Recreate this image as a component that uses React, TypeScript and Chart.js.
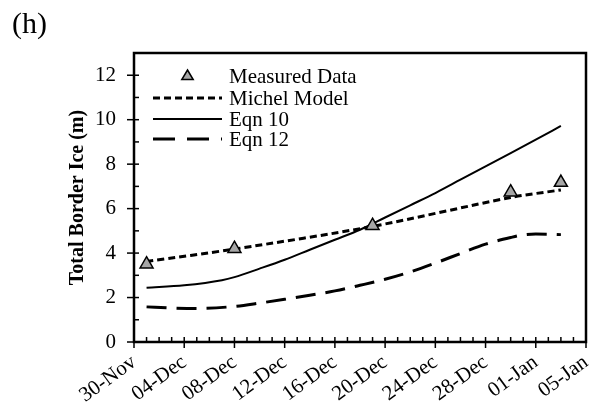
import React, { useEffect, useRef } from 'react';
import { Chart, registerables } from 'chart.js';

Chart.register(...registerables);

// Day offsets are counted from 30-Nov
const xTickLabels = ['30-Nov', '04-Dec', '08-Dec', '12-Dec', '16-Dec', '20-Dec', '24-Dec', '28-Dec', '01-Jan', '05-Jan'];
const xTickStep = 4;
const yTickValues = [0, 2, 4, 6, 8, 10, 12];
const measuredDays = [1, 8, 19, 30, 34];
const measuredValues = [3.5, 4.2, 5.23, 6.74, 7.17];
const michelDays = [1, 8, 19, 30, 34];
const michelValues = [3.62, 4.18, 5.2, 6.5, 6.84];
const eqn10Days = [1, 4, 7, 8, 10, 12, 14, 16, 18, 20, 22, 24, 26, 28, 30, 32, 34];
const eqn10Values = [2.44, 2.55, 2.78, 2.92, 3.3, 3.7, 4.15, 4.6, 5.05, 5.6, 6.15, 6.7, 7.3, 7.9, 8.5, 9.1, 9.72];
const eqn12Days = [1, 3, 5, 8, 10, 12, 14, 16, 18, 20, 22, 24, 26, 28, 30, 31, 32, 33, 34];
const eqn12Values = [1.58, 1.53, 1.51, 1.6, 1.75, 1.92, 2.1, 2.3, 2.55, 2.82, 3.15, 3.55, 3.98, 4.4, 4.7, 4.82, 4.86, 4.85, 4.83];
const legendLabels = ['Measured Data', 'Michel Model', 'Eqn 10', 'Eqn 12'];
const yAxisTitle = 'Total Border Ice (m)';
const panelLabel = '(h)';

const FONT = '"Liberation Serif", "Times New Roman", serif';
const TRI_FILL = '#a6a6a6';

const toPoints = (xs: number[], ys: number[]) => xs.map((x, i) => ({ x, y: ys[i] }));

function drawTriangle(ctx: CanvasRenderingContext2D, cx: number, cy: number, r: number) {
  ctx.beginPath();
  ctx.moveTo(cx, cy - r);
  ctx.lineTo(cx + r * 0.95, cy + r * 0.6);
  ctx.lineTo(cx - r * 0.95, cy + r * 0.6);
  ctx.closePath();
  ctx.fillStyle = TRI_FILL;
  ctx.fill();
  ctx.lineWidth = 1.5;
  ctx.strokeStyle = '#000';
  ctx.stroke();
}

const decorPlugin = {
  id: 'decor',
  afterDatasetsDraw(chart: any) {
    const { ctx, chartArea: a, scales } = chart;
    const xs = scales.x;
    const ys = scales.y;
    ctx.save();
    ctx.strokeStyle = '#000';
    ctx.setLineDash([]);
    // frame
    ctx.lineWidth = 2.5;
    ctx.strokeRect(a.left, a.top, a.right - a.left, a.bottom - a.top);
    // x ticks
    ctx.lineWidth = 1.5;
    for (let d = xs.min; d <= xs.max; d++) {
      const px = xs.getPixelForValue(d);
      const major = d % xTickStep === 0;
      ctx.beginPath();
      ctx.moveTo(px, a.bottom + (major ? 6 : 0));
      ctx.lineTo(px, a.bottom - 5);
      ctx.stroke();
    }
    // y ticks
    for (let v = ys.min; v <= ys.max; v++) {
      const py = ys.getPixelForValue(v);
      const major = yTickValues.includes(v);
      ctx.beginPath();
      ctx.moveTo(a.left - (major ? 7 : 0), py);
      ctx.lineTo(a.left + 5, py);
      ctx.stroke();
    }
    // legend
    const rows = [23, 45, 66, 86];
    const lx0 = a.left + 19;
    const lx1 = a.left + 88;
    const tx = a.left + 95;
    ctx.font = '21px ' + FONT;
    ctx.textBaseline = 'middle';
    ctx.textAlign = 'left';
    drawTriangle(ctx, (lx0 + lx1) / 2, a.top + rows[0], 6);
    const dashes = [[7, 4], [], [22, 12]];
    const widths = [3, 2, 3];
    for (let i = 0; i < 3; i++) {
      const y = a.top + rows[i + 1];
      ctx.beginPath();
      ctx.setLineDash(dashes[i]);
      ctx.lineWidth = widths[i];
      ctx.strokeStyle = '#000';
      ctx.moveTo(lx0, y);
      ctx.lineTo(lx1, y);
      ctx.stroke();
    }
    ctx.setLineDash([]);
    ctx.fillStyle = '#000';
    legendLabels.forEach((t, i) => ctx.fillText(t, tx, a.top + rows[i] + 1));
    // panel label
    ctx.font = '30px ' + FONT;
    ctx.textBaseline = 'alphabetic';
    ctx.fillText(panelLabel, 12, 33);
    ctx.restore();
  },
};

export default function App() {
  const ref = useRef<HTMLCanvasElement | null>(null);
  useEffect(() => {
    document.body.style.margin = '0';
    const canvas = ref.current;
    if (!canvas) return;
    const chart = new Chart(canvas, {
      type: 'scatter',
      data: {
        datasets: [
          {
            label: legendLabels[0],
            data: toPoints(measuredDays, measuredValues),
            showLine: false,
            pointStyle: 'triangle',
            pointRadius: 7.5,
            backgroundColor: TRI_FILL,
            borderColor: '#000',
            borderWidth: 1.5,
            order: 0,
          },
          {
            label: legendLabels[1],
            data: toPoints(michelDays, michelValues),
            showLine: true,
            borderColor: '#000',
            borderWidth: 3,
            borderDash: [7, 4],
            pointRadius: 0,
            tension: 0.3,
            order: 1,
          },
          {
            label: legendLabels[2],
            data: toPoints(eqn10Days, eqn10Values),
            showLine: true,
            borderColor: '#000',
            borderWidth: 2,
            pointRadius: 0,
            cubicInterpolationMode: 'monotone',
            order: 2,
          },
          {
            label: legendLabels[3],
            data: toPoints(eqn12Days, eqn12Values),
            showLine: true,
            borderColor: '#000',
            borderWidth: 3,
            borderDash: [20, 10],
            pointRadius: 0,
            cubicInterpolationMode: 'monotone',
            order: 3,
          },
        ],
      },
      options: {
        responsive: false,
        animation: false,
        events: [],
        layout: { padding: { top: 53, right: 9, left: 0, bottom: 0 } },
        plugins: { legend: { display: false }, tooltip: { enabled: false } },
        scales: {
          x: {
            type: 'linear',
            min: 0,
            max: 36,
            ticks: {
              stepSize: xTickStep,
              autoSkip: false,
              maxRotation: 36,
              minRotation: 36,
              padding: 2,
              color: '#000',
              font: { size: 21, family: FONT },
              callback: (v: any) => xTickLabels[Math.round(Number(v) / xTickStep)],
            },
            grid: { drawOnChartArea: false, color: 'rgba(0,0,0,0)', tickLength: 6 },
            border: { display: false },
            afterFit: (s: any) => { s.height = 70; s.paddingLeft = 0; s.paddingRight = 0; },
          },
          y: {
            min: 0,
            max: 13,
            ticks: {
              autoSkip: false,
              padding: 12,
              color: '#000',
              font: { size: 21, family: FONT },
            },
            afterBuildTicks: (s: any) => { s.ticks = yTickValues.map((v) => ({ value: v })); },
            title: {
              display: true,
              text: yAxisTitle,
              color: '#000',
              font: { size: 20, weight: 'bold', family: FONT },
              padding: { top: 66, bottom: 0 },
            },
            grid: { drawOnChartArea: false, color: 'rgba(0,0,0,0)', tickLength: 6 },
            border: { display: false },
            afterFit: (s: any) => { s.width = 134; },
          },
        },
      },
      plugins: [decorPlugin],
    } as any);
    return () => chart.destroy();
  }, []);
  return (
    <div style={{ width: 595, height: 412 }}>
      <canvas ref={ref} width={595} height={412} />
    </div>
  );
}
